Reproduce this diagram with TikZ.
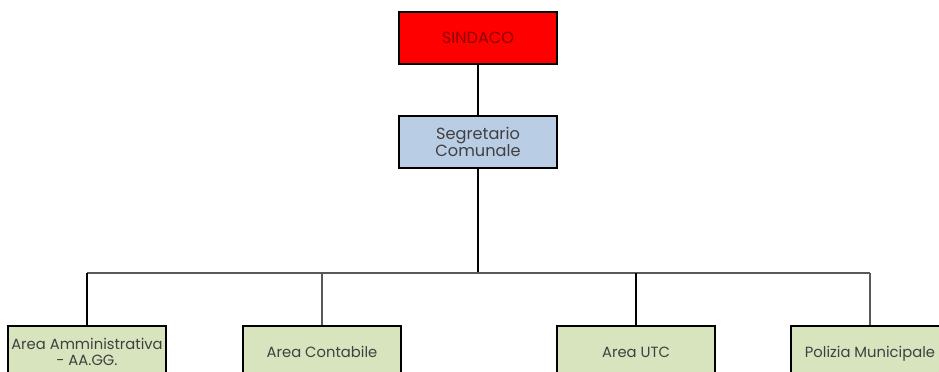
\documentclass[tikz,border=0pt]{standalone}
\usepackage{fontspec}
\setmainfont{Poppins}
\definecolor{sindacored}{RGB}{255,0,0}
\definecolor{segrblue}{RGB}{185,205,229}
\definecolor{areagreen}{RGB}{215,228,189}
\begin{document}
\begin{tikzpicture}[x=0.025cm,y=-0.025cm,
  ufficio/.style={draw=black, line width=1.3pt, minimum width=3.93cm, inner sep=0pt,
    align=center, font=\fontsize{10.5}{12.5}\selectfont, text=black!75},
  vertice/.style={ufficio, minimum height=1.3cm, font=\fontsize{11.5}{12.5}\selectfont},
  area/.style={ufficio, fill=areagreen, anchor=north, text height=0.8cm, text depth=1.1cm},
  linea/.style={line width=1.3pt, black},
  lineasottile/.style={line width=0.9pt, black!65}]
\useasboundingbox (0,0) rectangle (939,372);
\node[vertice, fill=sindacored, text=red!55!black] (sindaco) at (478,38) {SINDACO};
\node[vertice, fill=segrblue] (segr) at (478,142) {Segretario\\Comunale};
\coordinate (bar) at (478,273);
\node[area, text height=1cm, font=\fontsize{10.5}{11.5}\selectfont] (amm) at (87,325) {Area Amministrativa\\- AA.GG.};
\node[area] (cont) at (322,325) {Area Contabile};
\node[area] (utc) at (636,325) {Area UTC};
\node[area] (pol) at (870,325) {Polizia Municipale};
\draw[linea] (sindaco) -- (segr);
\draw[linea] (segr) -- (bar);
\draw[lineasottile] (amm.north |- bar) -- (pol.north |- bar);
\draw[linea] (amm.north) -- (amm.north |- bar);
\draw[lineasottile] (cont.north) -- (cont.north |- bar);
\draw[linea] (utc.north) -- (utc.north |- bar);
\draw[lineasottile] (pol.north) -- (pol.north |- bar);
\end{tikzpicture}
\end{document}
